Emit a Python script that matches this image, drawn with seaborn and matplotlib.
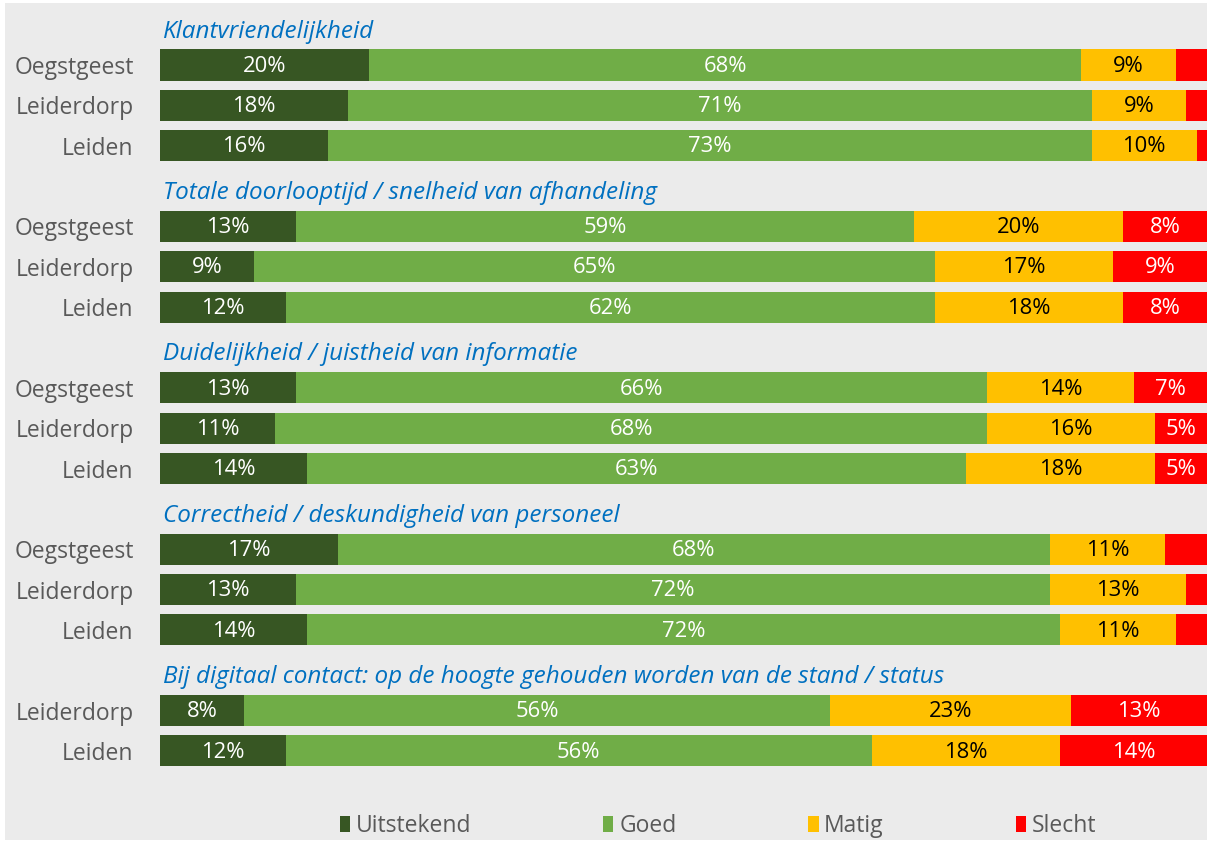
import numpy as np
import pandas as pd
import matplotlib
matplotlib.use("Agg")
import matplotlib.pyplot as plt
from matplotlib.patches import Rectangle, Patch
import seaborn as sns

# ---------------- data ----------------
sections = [
    "Klantvriendelijkheid",
    "Totale doorlooptijd / snelheid van afhandeling",
    "Duidelijkheid / juistheid van informatie",
    "Correctheid / deskundigheid van personeel",
    "Bij digitaal contact: op de hoogte gehouden worden van de stand / status",
]
municipalities = [
    ["Oegstgeest", "Leiderdorp", "Leiden"],
    ["Oegstgeest", "Leiderdorp", "Leiden"],
    ["Oegstgeest", "Leiderdorp", "Leiden"],
    ["Oegstgeest", "Leiderdorp", "Leiden"],
    ["Leiderdorp", "Leiden"],
]
uitstekend = [[20, 18, 16], [13, 9, 12], [13, 11, 14], [17, 13, 14], [8, 12]]
goed = [[68, 71, 73], [59, 65, 62], [66, 68, 63], [68, 72, 72], [56, 56]]
matig = [[9, 9, 10], [20, 17, 18], [14, 16, 18], [11, 13, 11], [23, 18]]
slecht = [[3, 2, 1], [8, 9, 8], [7, 5, 5], [4, 2, 3], [13, 14]]

categories = ["Uitstekend", "Goed", "Matig", "Slecht"]
colors = ["#375623", "#70AD47", "#FFC000", "#FF0000"]
text_colors = ["white", "white", "black", "white"]

# ---------------- build table ----------------
rows = []
header_slots = []
slot = 0
for s, sec in enumerate(sections):
    header_slots.append((slot, sec))
    slot += 1
    for i, m in enumerate(municipalities[s]):
        rows.append(dict(slot=slot, name=m,
                         Uitstekend=uitstekend[s][i], Goed=goed[s][i],
                         Matig=matig[s][i], Slecht=slecht[s][i]))
        slot += 1
df = pd.DataFrame(rows)
cum = df[categories].cumsum(axis=1)
for c in categories:
    df["cum_" + c] = cum[c]

# ---------------- figure ----------------
W, H = 1207, 841
fig = plt.figure(figsize=(W / 100, H / 100), dpi=100, facecolor="white")
fig.patches.append(Rectangle((5 / W, 1 / H), 1 - 5 / W, (838 - 1) / H,
                             transform=fig.transFigure, facecolor="#EBEBEB",
                             edgecolor="none", zorder=-10))

ax = fig.add_axes([160 / W, 0, 1 - 160 / W, 1])
ax.set_facecolor("none")

font = ["Open Sans", "DejaVu Sans"]
fs = 15.8

# draw stacked bars: cumulative totals from the largest down
for c, col in reversed(list(zip(categories, colors))):
    sns.barplot(data=df, x="cum_" + c, y="slot", orient="y", native_scale=True,
                width=0.77, color=col, linewidth=0, errorbar=None, ax=ax,
                saturation=1)

# segment labels
for _, r in df.iterrows():
    start = 0
    for c, tc in zip(categories, text_colors):
        v = r[c]
        if v >= 5:
            ax.text(start + v / 2, r["slot"] + 0.03, f"{v}%", ha="center", va="center",
                    color=tc, fontsize=fs, family=font)
        start += v

# section headers
for hs, sec in header_slots:
    ax.text(0.3, hs + 0.17, sec, ha="left", va="center", color="#0070C0",
            fontsize=17.5, style="italic", family=font)

# axes formatting
spacing = 40.35
top_k = 1 - 65 / spacing
bot_k = 1 + (H - 65) / spacing
ax.set_xlim(0, 100)
ax.set_ylim(bot_k, top_k)
ax.set_yticks(df["slot"].tolist())
ax.set_yticklabels(df["name"].tolist(), family=font, fontsize=16.5, color="#595959")
ax.tick_params(axis="y", length=0, pad=19)
ax.tick_params(axis="x", length=0, labelbottom=False)
ax.set_xlabel("")
ax.set_ylabel("")
for sp in ax.spines.values():
    sp.set_visible(False)
ax.grid(False)

# legend
handles = [Patch(facecolor=col, edgecolor="none", label=c) for c, col in zip(categories, colors)]
leg = fig.legend(handles=handles, loc="center", bbox_to_anchor=(718 / W, 1 - 826 / H),
                 ncol=4, frameon=False, prop={"family": font, "size": 16.5},
                 handlelength=0.45, handleheight=0.65, handletextpad=0.25,
                 columnspacing=5.75, labelcolor="#595959")

fig.savefig("out.png", dpi=100, facecolor=fig.get_facecolor())
